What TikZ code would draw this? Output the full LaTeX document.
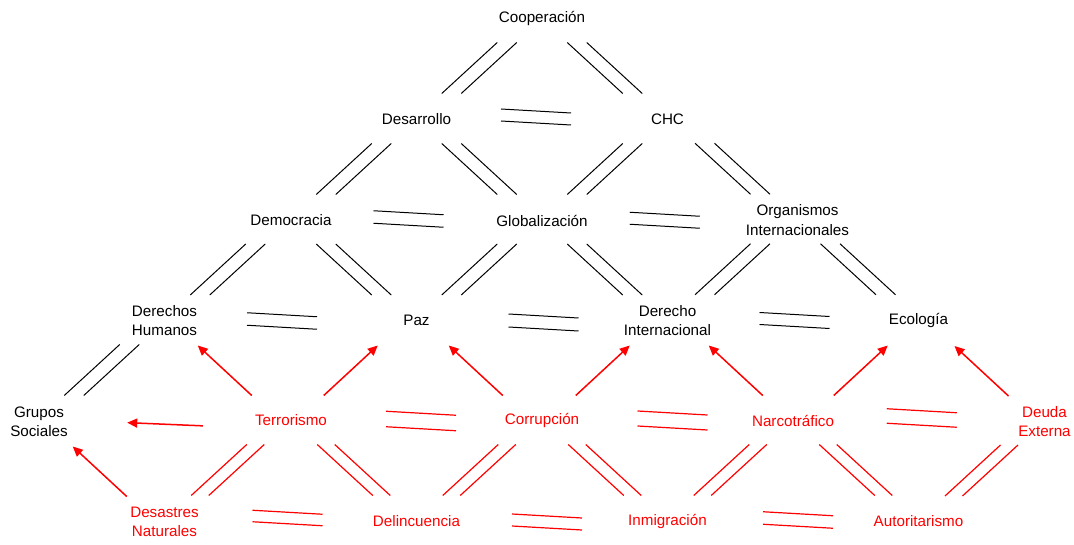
\documentclass[tikz,border=0pt]{standalone}
\usepackage{fontspec}
\setmainfont{Liberation Sans}
\usetikzlibrary{calc,arrows.meta}
\definecolor{rojo}{RGB}{255,0,0}

% horizontal double bar between two nodes: style, a, b, dx, dy, gap
\newcommand\hpair[6]{%
  \draw[#1] ($(#2)!0.5!(#3)+(#4,#5)+(-35,-2-#6/2)$) -- ++(70,4);
  \draw[#1] ($(#2)!0.5!(#3)+(#4,#5)+(-35,-2+#6/2)$) -- ++(70,4);}
% slanted double bar: style, upper node, lower node, sign (+1 lower is right), gap
\newcommand\dpair[5]{%
  \draw[#1] ($(#2)!0.5!(#3)+(-#5/2,-1)+(-27.75*#4,-25.5)$) -- ++(55.5*#4,51);
  \draw[#1] ($(#2)!0.5!(#3)+(#5/2,-1)+(-27.75*#4,-25.5)$) -- ++(55.5*#4,51);}
% causal arrow: source (lower), target (upper), sign (+1 target is right), dx
\newcommand\cause[4]{%
  \draw[causearrow] ($(#1)!0.5!(#2)+(#4,0)+(-27*#3,25)$) -- ++(54*#3,-50);}

\begin{document}
\begin{tikzpicture}[x=1pt,y=-1pt,
  lbl/.style={align=center,inner sep=0pt,font=\fontsize{15.2}{19.2}\selectfont},
  risk/.style={lbl,text=rojo},
  link/.style={line width=1pt,black},
  rlink/.style={line width=1.2pt,rojo},
  causearrow/.style={line width=1.5pt,rojo,-{Triangle[length=10pt,width=9pt]}}]
\useasboundingbox (0,0) rectangle (1074,545);

% concepts
\node[lbl] (coop) at (542,18.5) {Cooperación};
\node[lbl] (des) at (416.5,119.5) {Desarrollo};
\node[lbl] (chc) at (667.5,119.5) {CHC};
\node[lbl] (dem) at (291,220.5) {Democracia};
\node[lbl] (glob) at (542,220.5) {Globalización};
\node[lbl] (org) at (797.5,220) {Organismos\\Internacionales};
\node[lbl] (dh) at (164.5,320.5) {Derechos\\Humanos};
\node[lbl] (paz) at (416.5,320.5) {Paz};
\node[lbl] (di) at (667.5,320.5) {Derecho\\Internacional};
\node[lbl] (eco) at (918.5,320.5) {Ecología};
\node[lbl] (gs) at (39,421.5) {Grupos\\Sociales};

% threats
\node[risk] (terr) at (291,420.5) {Terrorismo};
\node[risk] (corr) at (542,420.5) {Corrupción};
\node[risk] (narc) at (793,420.5) {Narcotráfico};
\node[risk] (deuda) at (1044.5,421.5) {Deuda\\Externa};
\node[risk] (dn) at (164.5,521.5) {Desastres\\Naturales};
\node[risk] (delinc) at (416.5,521.5) {Delincuencia};
\node[risk] (inm) at (667.5,521.5) {Inmigración};
\node[risk] (aut) at (918.5,521.5) {Autoritarismo};

% horizontal links
\hpair{link}{des}{chc}{-6}{-2.5}{12}
\hpair{link}{dem}{glob}{-8}{-1.5}{12.5}
\hpair{link}{glob}{org}{-5}{0}{12}
\hpair{link}{dh}{paz}{-8.5}{0.5}{12.5}
\hpair{link}{paz}{di}{1.5}{2}{13}
\hpair{link}{di}{eco}{1.5}{0}{12}
\hpair{rlink}{terr}{corr}{4.5}{0.5}{15.5}
\hpair{rlink}{corr}{narc}{5}{0}{15}
\hpair{rlink}{narc}{deuda}{3}{-3}{14.5}
\hpair{rlink}{dn}{delinc}{-3}{-3.5}{11.5}
\hpair{rlink}{delinc}{inm}{5}{0.5}{12}
\hpair{rlink}{inm}{aut}{5}{-1.5}{12.5}

% slanted links
\dpair{link}{coop}{des}{-1}{19.5}
\dpair{link}{coop}{chc}{1}{19.5}
\dpair{link}{des}{dem}{-1}{19.5}
\dpair{link}{des}{glob}{1}{19.5}
\dpair{link}{chc}{glob}{-1}{19.5}
\dpair{link}{chc}{org}{1}{19.5}
\dpair{link}{dem}{dh}{-1}{19.5}
\dpair{link}{dem}{paz}{1}{19.5}
\dpair{link}{glob}{paz}{-1}{19.5}
\dpair{link}{glob}{di}{1}{19.5}
\dpair{link}{org}{di}{-1}{19.5}
\dpair{link}{org}{eco}{1}{19.5}
\dpair{link}{dh}{gs}{-1}{19.5}
\dpair{rlink}{terr}{dn}{-1}{17.5}
\dpair{rlink}{terr}{delinc}{1}{17.5}
\dpair{rlink}{corr}{delinc}{-1}{17.5}
\dpair{rlink}{corr}{inm}{1}{17.5}
\dpair{rlink}{narc}{inm}{-1}{17.5}
\dpair{rlink}{narc}{aut}{1}{17.5}
\dpair{rlink}{deuda}{aut}{-1}{17.5}

% causal arrows
\cause{terr}{dh}{-1}{-3}
\cause{terr}{paz}{1}{-3}
\cause{corr}{paz}{-1}{-3.5}
\cause{corr}{di}{1}{-2}
\cause{narc}{di}{-1}{5.5}
\cause{narc}{eco}{1}{5}
\cause{deuda}{eco}{-1}{0}
\cause{dn}{gs}{-1}{-2}
\draw[causearrow] ($(terr)!0.35!(gs)+(0,5)$) -- ($(terr)!0.65!(gs)+(0,1.5)$);
\end{tikzpicture}
\end{document}
